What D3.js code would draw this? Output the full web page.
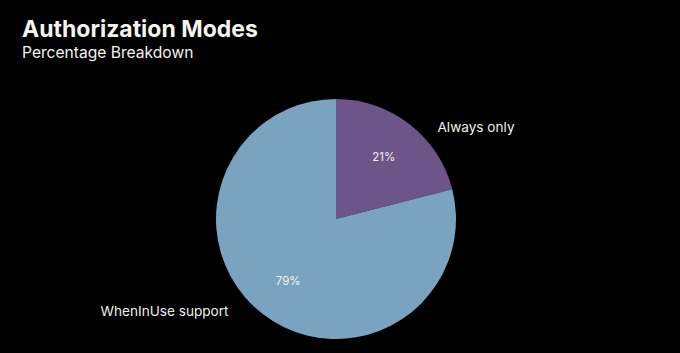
<!DOCTYPE html>
<html><head><meta charset="utf-8">
<script src="https://cdn.jsdelivr.net/npm/d3@7"></script>
<style>html,body{margin:0;padding:0;background:#000;}</style>
</head><body>
<svg id="c" width="680" height="353"></svg>
<script>
const categories = ["Always only", "WhenInUse support"];
const values = [21, 79];
const colors = ["#6e5589", "#7aa3bf"];
const title = "Authorization Modes";
const subtitle = "Percentage Breakdown";

const svg = d3.select("#c");
svg.append("rect").attr("width",680).attr("height",353).attr("fill","#000");
const font = "Inter, 'Noto Sans', sans-serif";
svg.append("text").attr("x",22).attr("y",37).text(title)
  .attr("fill","#f4f4ee").attr("font-family",font).attr("font-weight",700).attr("font-size",23);
svg.append("text").attr("x",22).attr("y",58).text(subtitle)
  .attr("fill","#f4f4ee").attr("font-family",font).attr("font-weight",400).attr("font-size",15.6);

const cx = 336, cy = 219, r = 120;
const g = svg.append("g").attr("transform",`translate(${cx},${cy})`);
const pie = d3.pie().sort(null).value(d=>d)(values);
const arc = d3.arc().innerRadius(0).outerRadius(r);
g.selectAll("path").data(pie).join("path").attr("d",arc).attr("fill",(d,i)=>colors[i]);
const inner = d3.arc().innerRadius(78).outerRadius(78);
g.selectAll("text.pct").data(pie).join("text").attr("class","pct")
  .attr("transform",d=>`translate(${inner.centroid(d)})`)
  .attr("text-anchor","middle").attr("dominant-baseline","central")
  .attr("fill","#f0f0f0").attr("font-family",font).attr("font-size",11.5)
  .text(d=>Math.round(d.value/d3.sum(values)*100)+"%");
const shift = 10*Math.PI/180;
g.selectAll("text.lab").data(pie).join("text").attr("class","lab")
  .each(function(d,i){
    const a = (d.startAngle+d.endAngle)/2 + shift;
    const R = 137;
    const x = Math.sin(a)*R, y = -Math.cos(a)*R;
    d3.select(this).attr("x", x + (x>0?0:-6)).attr("y", y)
      .attr("text-anchor", x>0?"start":"end");
  })
  .attr("dominant-baseline","central")
  .attr("fill","#f0f0ea").attr("font-family",font).attr("font-size",13.6)
  .text((d,i)=>categories[i]);
</script>
</body></html>
